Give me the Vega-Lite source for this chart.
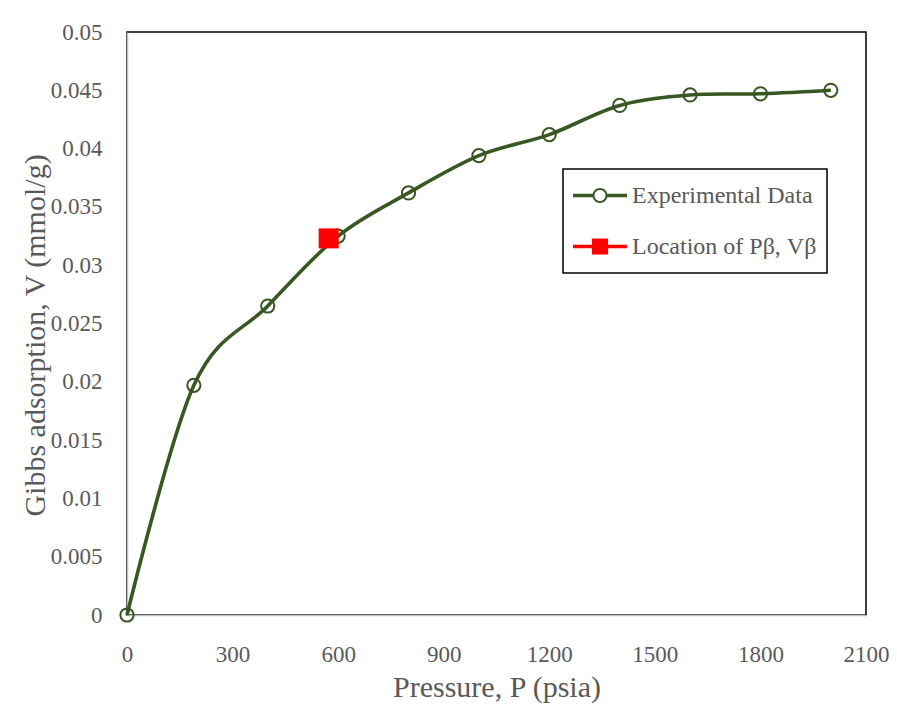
{
  "$schema": "https://vega.github.io/schema/vega-lite/v6.json",
  "autosize": "none",
  "width": 739,
  "height": 583,
  "padding": {"left": 127, "top": 32, "right": 31, "bottom": 96},
  "background": "white",
  "datasets": {
    "experimental": [
      {"pressure": 0, "adsorption": 0, "series": "Experimental Data"},
      {"pressure": 190, "adsorption": 0.0197, "series": "Experimental Data"},
      {"pressure": 400, "adsorption": 0.0265, "series": "Experimental Data"},
      {"pressure": 600, "adsorption": 0.0325, "series": "Experimental Data"},
      {"pressure": 800, "adsorption": 0.0362, "series": "Experimental Data"},
      {"pressure": 1000, "adsorption": 0.0394, "series": "Experimental Data"},
      {"pressure": 1200, "adsorption": 0.0412, "series": "Experimental Data"},
      {"pressure": 1400, "adsorption": 0.0437, "series": "Experimental Data"},
      {"pressure": 1600, "adsorption": 0.0446, "series": "Experimental Data"},
      {"pressure": 1800, "adsorption": 0.0447, "series": "Experimental Data"},
      {"pressure": 2000, "adsorption": 0.0450, "series": "Experimental Data"}
    ],
    "beta": [
      {"pressure": 573, "adsorption": 0.0323, "series": "Location of Pβ, Vβ"}
    ]
  },
  "config": {
    "font": "Liberation Serif",
    "view": {"stroke": "black", "strokeWidth": 1.5},
    "axis": {
      "grid": false,
      "ticks": false,
      "labelFlush": false,
      "domainColor": "#bfbfbf",
      "domainWidth": 1.5,
      "labelFont": "Liberation Serif",
      "labelFontSize": 23,
      "labelColor": "#595959",
      "titleFont": "Liberation Serif",
      "titleFontSize": 30,
      "titleFontWeight": "normal",
      "titleColor": "#595959"
    },
    "legend": {
      "labelFont": "Liberation Serif",
      "labelFontSize": 24,
      "labelColor": "#595959",
      "labelLimit": 0
    }
  },
  "layer": [
    {
      "data": {"name": "experimental"},
      "mark": {"type": "line", "interpolate": "cardinal", "strokeWidth": 3.6},
      "encoding": {
        "x": {
          "field": "pressure",
          "type": "quantitative",
          "scale": {"domain": [0, 2100], "nice": false},
          "axis": {
            "title": "Pressure, P (psia)",
            "values": [0, 300, 600, 900, 1200, 1500, 1800, 2100],
            "format": "d",
            "labelPadding": 28,
            "titlePadding": 6
          }
        },
        "y": {
          "field": "adsorption",
          "type": "quantitative",
          "scale": {"domain": [0, 0.05], "nice": false},
          "axis": {
            "title": "Gibbs adsorption, V (mmol/g)",
            "values": [0, 0.005, 0.01, 0.015, 0.02, 0.025, 0.03, 0.035, 0.04, 0.045, 0.05],
            "format": "~g",
            "labelPadding": 25,
            "titlePadding": 0,
            "titleY": 303
          }
        },
        "color": {
          "field": "series",
          "type": "nominal",
          "scale": {
            "domain": ["Experimental Data", "Location of Pβ, Vβ"],
            "range": ["#385723", "#ff0000"]
          },
          "legend": {
            "title": null,
            "orient": "none",
            "legendX": 436,
            "legendY": 137,
            "padding": 10,
            "strokeColor": "black",
            "fillColor": "white",
            "symbolSize": 2916,
            "symbolStrokeWidth": 0,
            "clipHeight": 33,
            "rowPadding": 18,
            "labelOffset": 5,
            "labelLimit": 0,
            "encode": {
              "legend": {
                "update": {
                  "strokeWidth": {"value": 1.5}
                }
              },
              "symbols": {
                "update": {
                  "shape": {"signal": "datum.value === 'Experimental Data' ? 'M-1,-0.065H-0.27V0.065H-1Z M0.27,-0.065H1V0.065H0.27Z M-0.278,0A0.278,0.278 0 1 1 0.278,0A0.278,0.278 0 1 1 -0.278,0Z M-0.204,0A0.204,0.204 0 1 0 0.204,0A0.204,0.204 0 1 0 -0.204,0Z' : 'M-1,-0.065H1V0.065H-1Z M-0.3,-0.3H0.3V0.3H-0.3Z'"},
                  "fill": {"signal": "datum.value === 'Experimental Data' ? '#385723' : '#ff0000'"},
                  "stroke": {"value": "transparent"},
                  "strokeWidth": {"value": 0},
                  "opacity": {"value": 1}
                }
              }
            }
          }
        }
      }
    },
    {
      "data": {"name": "experimental"},
      "mark": {"type": "point", "shape": "circle", "filled": false, "size": 175, "strokeWidth": 2, "opacity": 1},
      "encoding": {
        "x": {"field": "pressure", "type": "quantitative"},
        "y": {"field": "adsorption", "type": "quantitative"},
        "color": {"field": "series", "type": "nominal"}
      }
    },
    {
      "data": {"name": "beta"},
      "mark": {"type": "point", "shape": "square", "filled": true, "size": 400, "opacity": 1},
      "encoding": {
        "x": {"field": "pressure", "type": "quantitative"},
        "y": {"field": "adsorption", "type": "quantitative"},
        "color": {"field": "series", "type": "nominal"}
      }
    }
  ]
}
